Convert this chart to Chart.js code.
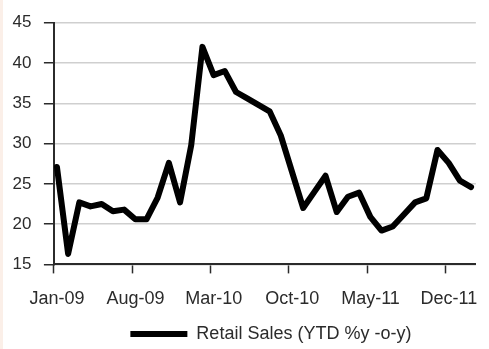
<!DOCTYPE html>
<html>
<head>
<meta charset="utf-8">
<title>Retail Sales</title>
<script src="https://cdn.jsdelivr.net/npm/chart.js@4.4.1/dist/chart.umd.min.js"></script>
<style>
    html, body { margin: 0; padding: 0; background: #fff; }
    #wrap { position: relative; width: 489px; height: 349px; }
</style>
</head>
<body>
<div id="wrap"><canvas id="chart-retail"></canvas></div>
<script>
/* Retail sales, year-to-date % y-o-y, monthly Jan-09 .. Feb-12 */

var months = [
    'Jan-09', 'Feb-09', 'Mar-09', 'Apr-09', 'May-09', 'Jun-09', 'Jul-09', 'Aug-09', 'Sep-09', 'Oct-09', 'Nov-09', 'Dec-09',
    'Jan-10', 'Feb-10', 'Mar-10', 'Apr-10', 'May-10', 'Jun-10', 'Jul-10', 'Aug-10', 'Sep-10', 'Oct-10', 'Nov-10', 'Dec-10',
    'Jan-11', 'Feb-11', 'Mar-11', 'Apr-11', 'May-11', 'Jun-11', 'Jul-11', 'Aug-11', 'Sep-11', 'Oct-11', 'Nov-11', 'Dec-11',
    'Jan-12', 'Feb-12'
];

var retailYtd = [
    27.1, 16.3, 22.7, 22.2, 22.5, 21.6, 21.8, 20.6, 20.6, 23.3, 27.6, 22.7,
    29.8, 42.0, 38.5, 39.0, 36.4, 35.6, 34.8, 34.0, 31.0, 26.5, 22.0, 24.0,
    26.0, 21.5, 23.4, 23.9, 20.9, 19.2, 19.7, 21.2, 22.7, 23.2, 29.2, 27.6,
    25.4, 24.6
];

// labelled months on the x axis (every 7th month from Jan-09)
var tickMonths = [0, 7, 14, 21, 28, 35];

var yTicks = { min: 15, max: 45, step: 5 };

(function () {
    'use strict';

    var ink      = '#2b2b2b';
    var gridGrey = '#cfcfcf';
    var font     = "'Liberation Sans', Arial, Helvetica, sans-serif";

    // points sit a little after the start of their month on the date axis
    var dayShift = 0.27;

    var points = retailYtd.map(function (v, i) {
        return { x: i + dayShift, y: v };
    });

    /* thin warm strip on the left edge */
    var edgeStrip = {
        id: 'edgeStrip',
        beforeDraw: function (chart) {
            var c = chart.ctx;
            c.save();
            c.fillStyle = '#fbefe8';
            c.fillRect(0, 0, 3, chart.height);
            c.restore();
        }
    };

    /* keep the legend centred under the plot area */
    var legendUnderPlot = {
        id: 'legendUnderPlot',
        afterLayout: function (chart) {
            var lg = chart.legend;
            if (!lg) return;
            lg.left = chart.chartArea.left + 6;
            lg.right = chart.chartArea.right + 6;
        }
    };

    new Chart(document.getElementById('chart-retail'), {
        type: 'line',
        data: {
            datasets: [{
                label: 'Retail Sales (YTD %y -o-y)',
                data: points,
                borderColor: '#000',
                backgroundColor: '#000',
                borderWidth: 6,
                borderJoinStyle: 'round',
                borderCapStyle: 'round',
                pointRadius: 0,
                tension: 0,
                fill: false
            }]
        },
        options: {
            responsive: true,
            maintainAspectRatio: false,
            animation: false,
            layout: { padding: { top: 10, left: 0, right: 0, bottom: 0 } },
            plugins: {
                tooltip: { enabled: false },
                legend: {
                    position: 'bottom',
                    fullSize: false,
                    maxHeight: 24,
                    labels: {
                        usePointStyle: true,
                        pointStyle: 'line',
                        pointStyleWidth: 57,
                        boxHeight: 6,
                        padding: 0,
                        color: ink,
                        font: { family: font, size: 18 }
                    }
                }
            },
            scales: {
                x: {
                    type: 'linear',
                    min: 0,
                    max: 37.7,
                    afterBuildTicks: function (scale) {
                        scale.ticks = tickMonths.map(function (m) { return { value: m }; });
                    },
                    grid: {
                        drawOnChartArea: false,
                        drawTicks: true,
                        tickLength: 9,
                        tickColor: ink,
                        tickWidth: 1.5
                    },
                    border: { color: ink, width: 2 },
                    ticks: {
                        autoSkip: false,
                        maxRotation: 0,
                        padding: 15,
                        labelOffset: 3.2,
                        color: ink,
                        font: { family: font, size: 18 },
                        callback: function (v) { return months[v]; }
                    }
                },
                y: {
                    min: yTicks.min,
                    max: yTicks.max,
                    grid: {
                        color: gridGrey,
                        lineWidth: 1.5,
                        tickLength: 10,
                        tickColor: ink,
                        tickWidth: 1.5
                    },
                    border: { color: ink, width: 2 },
                    ticks: {
                        stepSize: yTicks.step,
                        padding: 12.5,
                        color: ink,
                        font: { family: font, size: 17 }
                    }
                }
            }
        },
        plugins: [edgeStrip, legendUnderPlot]
    });
})();
</script>
</body>
</html>
